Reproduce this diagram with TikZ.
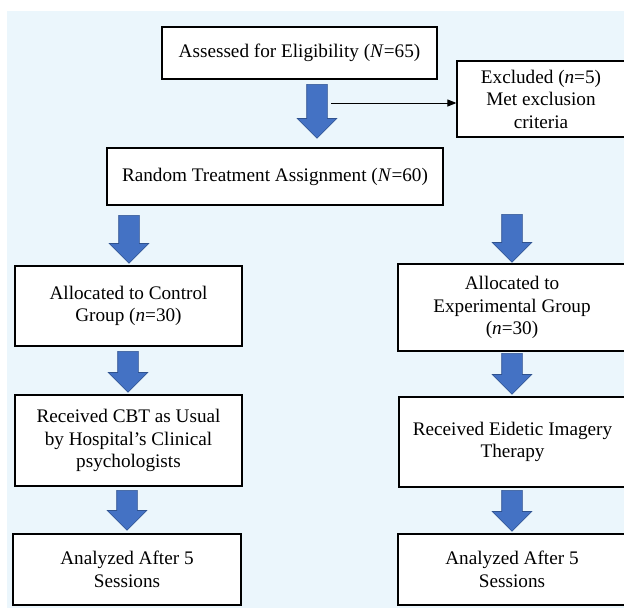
\documentclass[tikz,border=0pt]{standalone}
\usepackage{fontspec}
\setmainfont{Liberation Serif}
\usetikzlibrary{shapes.arrows,arrows.meta}

\definecolor{panelblue}{HTML}{EBF6FC}
\definecolor{arrowblue}{HTML}{4472C4}
\definecolor{arrowedge}{HTML}{2F528F}

\tikzset{
  box/.style={draw, line width=1.2pt, fill=white, align=center, inner sep=0pt,
    font=\fontsize{19.2}{22.5}\selectfont},
  bigarrow/.style={single arrow, rotate=-90, anchor=tail, draw=arrowedge, line width=0.6pt,
    fill=arrowblue, inner xsep=0pt, inner ysep=10pt, minimum width=38pt, minimum height=48pt,
    single arrow head extend=9.5pt},
}

\begin{document}
\begin{tikzpicture}[x=1pt, y=-1pt]
  \useasboundingbox (0,0) rectangle (624,608);
  \clip (0,0) rectangle (624,608);
  \fill[panelblue] (7,11) rectangle (624,608);

  \node[box, minimum width=275pt, minimum height=52pt] (assess) at (299.5,53)
    {Assessed for Eligibility (\textit{N}=65)};
  \node[box, minimum width=168pt, minimum height=76pt] (excl) at (541,99)
    {Excluded (\textit{n}=5)\\Met exclusion\\criteria};
  \node[box, minimum width=336pt, minimum height=57pt] (random) at (275,176.5)
    {Random Treatment Assignment (\textit{N}=60)};

  % control arm
  \node[box, minimum width=227pt, minimum height=80pt] (ctrlalloc) at (128.5,306)
    {Allocated to Control\\Group (\textit{n}=30)};
  \node[box, minimum width=227pt, minimum height=91pt] (ctrlcbt) at (128.5,440.5)
    {Received CBT as Usual\\by Hospital’s Clinical\\psychologists};
  \node[box, minimum width=228pt, minimum height=71pt] (ctrlend) at (127,569.5)
    {Analyzed After 5\\Sessions};

  % experimental arm
  \node[box, minimum width=228pt, minimum height=87pt] (expalloc) at (512,307.5)
    {Allocated to\\Experimental Group\\(\textit{n}=30)};
  \node[box, minimum width=227pt, minimum height=90pt] (expeit) at (512.5,442)
    {Received Eidetic Imagery\\Therapy};
  \node[box, minimum width=228pt, minimum height=71pt] (expend) at (512,569.5)
    {Analyzed After 5\\Sessions};

  % block arrows
  \node[bigarrow, minimum height=54pt] (arr1) at (317,84) {};
  \node[bigarrow] (arr2) at (129,215) {};
  \node[bigarrow] (arr3) at (512,214) {};
  \node[bigarrow, minimum height=41pt] (arr4) at (128,351) {};
  \node[bigarrow, minimum height=41pt] (arr5) at (512,353) {};
  \node[bigarrow, minimum height=40pt] (arr6) at (127,490) {};
  \node[bigarrow, minimum height=41pt] (arr7) at (512,490) {};

  \coordinate (split) at (331,103);
  \draw[line width=1pt, -{Triangle[length=9pt,width=7pt]}] (split) -- (split -| excl.west);
\end{tikzpicture}
\end{document}
